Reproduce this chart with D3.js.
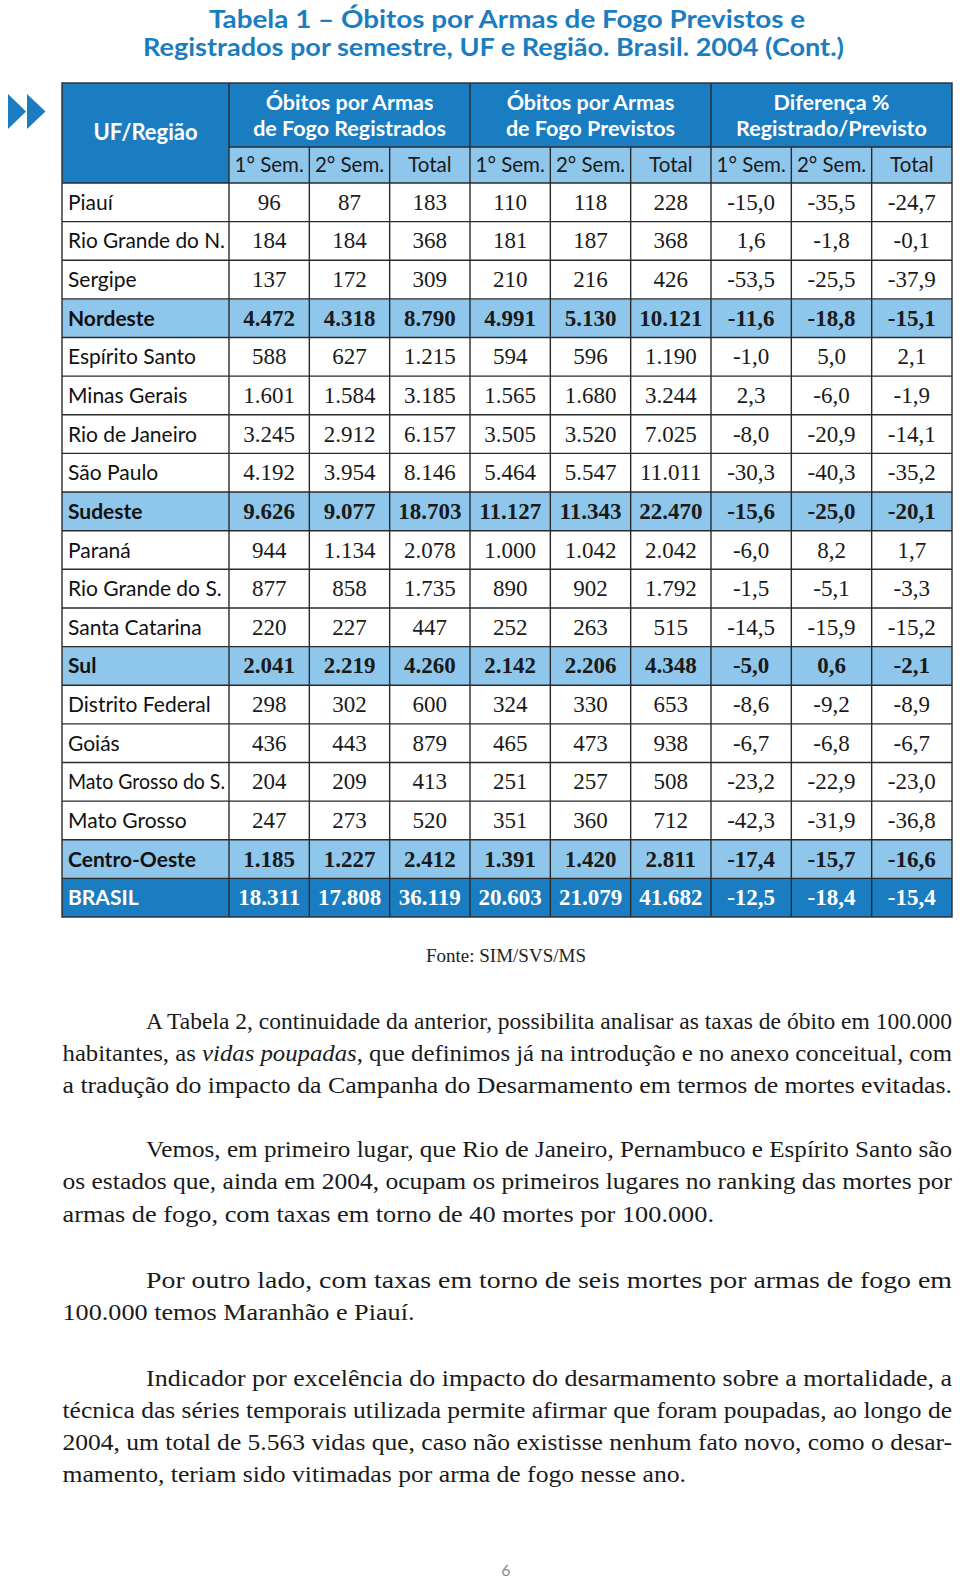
<!DOCTYPE html>
<html><head><meta charset="utf-8">
<script src="https://cdn.jsdelivr.net/npm/d3@7"></script>
<style>html,body{margin:0;padding:0;background:#fff;} svg{display:block}</style>
</head><body>
<script>
// ---------------- DATA ----------------
const titleLines = [
  "Tabela 1 – Óbitos por Armas de Fogo Previstos e",
  "Registrados por semestre,  UF e Região. Brasil. 2004 (Cont.)"
];
const firstHeader = "UF/Região";
const groupHeaders = [
  ["Óbitos por Armas", "de Fogo Registrados"],
  ["Óbitos por Armas", "de Fogo Previstos"],
  ["Diferença %", "Registrado/Previsto"]
];
const subHeaders = ["1° Sem.", "2° Sem.", "Total"];

const regions = ["Piauí","Rio Grande do N.","Sergipe","Nordeste","Espírito Santo","Minas Gerais",
  "Rio de Janeiro","São Paulo","Sudeste","Paraná","Rio Grande do S.","Santa Catarina","Sul",
  "Distrito Federal","Goiás","Mato Grosso do S.","Mato Grosso","Centro-Oeste","BRASIL"];
const kinds = ["uf","uf","uf","regiao","uf","uf","uf","uf","regiao","uf","uf","uf","regiao",
  "uf","uf","uf","uf","regiao","brasil"];

const regSem1   = [96,184,137,4472,588,1601,3245,4192,9626,944,877,220,2041,298,436,204,247,1185,18311];
const regSem2   = [87,184,172,4318,627,1584,2912,3954,9077,1134,858,227,2219,302,443,209,273,1227,17808];
const regTotal  = [183,368,309,8790,1215,3185,6157,8146,18703,2078,1735,447,4260,600,879,413,520,2412,36119];
const prevSem1  = [110,181,210,4991,594,1565,3505,5464,11127,1000,890,252,2142,324,465,251,351,1391,20603];
const prevSem2  = [118,187,216,5130,596,1680,3520,5547,11343,1042,902,263,2206,330,473,257,360,1420,21079];
const prevTotal = [228,368,426,10121,1190,3244,7025,11011,22470,2042,1792,515,4348,653,938,508,712,2811,41682];
const difSem1   = [-15.0,1.6,-53.5,-11.6,-1.0,2.3,-8.0,-30.3,-15.6,-6.0,-1.5,-14.5,-5.0,-8.6,-6.7,-23.2,-42.3,-17.4,-12.5];
const difSem2   = [-35.5,-1.8,-25.5,-18.8,5.0,-6.0,-20.9,-40.3,-25.0,8.2,-5.1,-15.9,0.6,-9.2,-6.8,-22.9,-31.9,-15.7,-18.4];
const difTotal  = [-24.7,-0.1,-37.9,-15.1,2.1,-1.9,-14.1,-35.2,-20.1,1.7,-3.3,-15.2,-2.1,-8.9,-6.7,-23.0,-36.8,-16.6,-15.4];

const sourceText = "Fonte: SIM/SVS/MS";
const pageNumber = "6";

const paragraphs = [
  ["A Tabela 2, continuidade da anterior, possibilita analisar as taxas de óbito em 100.000",
   "habitantes, as _vidas poupadas_, que definimos já na introdução e no anexo conceitual, com",
   "a tradução do impacto da Campanha do Desarmamento em termos de mortes evitadas."],
  ["Vemos, em primeiro lugar, que Rio de Janeiro, Pernambuco e Espírito Santo são",
   "os estados que, ainda em 2004, ocupam os primeiros lugares no ranking das mortes por",
   "armas de fogo, com taxas em torno de 40 mortes por 100.000."],
  ["Por outro lado, com taxas em torno de seis mortes por armas de fogo em",
   "100.000 temos Maranhão e Piauí."],
  ["Indicador por excelência do impacto do desarmamento sobre a mortalidade, a",
   "técnica das séries temporais utilizada permite afirmar que foram poupadas, ao longo de",
   "2004, um total de 5.563 vidas que, caso não existisse nenhum fato novo, como o desar-",
   "mamento, teriam sido vitimadas por arma de fogo nesse ano."]
];

// ---------------- LAYOUT / STYLE ----------------
const W = 960, H = 1581;
const DARK = "#1b7dc1", LIGHT = "#8fc6ec", LINE = "#2b2b2b";
const SANS = "Lato, 'Open Sans', sans-serif";
const SERIF = "'Liberation Serif', serif";

const tableLeft = 62, firstColRight = 229, tableRight = 952;
const headTop = 83, subTop = 147, bodyTop = 183, bodyBottom = 917;

const svg = d3.select("body").append("svg").attr("width", W).attr("height", H);

// Title
const titleLayout = [{x: 209, w: 596, y: 28}, {x: 143, w: 701, y: 56}];
svg.selectAll("text.title").data(titleLines).join("text")
  .attr("class","title")
  .attr("x", (d,i) => titleLayout[i].x).attr("y", (d,i) => titleLayout[i].y)
  .attr("textLength", (d,i) => titleLayout[i].w).attr("lengthAdjust","spacingAndGlyphs")
  .attr("font-family", SANS).attr("font-weight", "bold").attr("font-size", 25)
  .attr("fill", DARK).text(d => d);

// Arrow icon
[[8,26],[27,45.5]].forEach(([a,b]) => {
  svg.append("polygon").attr("points", `${a},94 ${b},111.5 ${a},129`).attr("fill", DARK);
});

// Scales
const colKeys = d3.range(9);
const x = d3.scaleBand().domain(colKeys).range([firstColRight, tableRight]);
const y = d3.scaleBand().domain(regions).range([bodyTop, bodyBottom]);
const columns = [regSem1, regSem2, regTotal, prevSem1, prevSem2, prevTotal, difSem1, difSem2, difTotal];
const loc = d3.formatLocale({decimal: ",", thousands: ".", grouping: [3], currency: ["R$", ""], minus: "-"});
const fmtInt = loc.format(",d"), fmtPct = loc.format(".1f");
const fmt = c => c < 6 ? fmtInt : fmtPct;

// Header backgrounds
svg.append("rect").attr("x", tableLeft).attr("y", headTop)
  .attr("width", tableRight - tableLeft).attr("height", bodyTop - headTop).attr("fill", DARK);
svg.append("rect").attr("x", firstColRight).attr("y", subTop)
  .attr("width", tableRight - firstColRight).attr("height", bodyTop - subTop).attr("fill", LIGHT);

// Row backgrounds
const rows = regions.map((r, i) => ({name: r, kind: kinds[i], i}));
svg.selectAll("rect.row").data(rows).join("rect").attr("class","row")
  .attr("x", tableLeft).attr("y", d => y(d.name))
  .attr("width", tableRight - tableLeft).attr("height", y.bandwidth())
  .attr("fill", d => d.kind === "regiao" ? LIGHT : d.kind === "brasil" ? DARK : "#fff");

// Header text
svg.append("text").attr("x", (tableLeft + firstColRight) / 2).attr("y", 139.5)
  .attr("text-anchor","middle").attr("font-family", SANS).attr("font-weight","bold")
  .attr("font-size", 22).attr("fill","#fff").text(firstHeader);
groupHeaders.forEach((g, gi) => {
  const cx = (x(gi*3) + x(gi*3+2) + x.bandwidth()) / 2;
  g.forEach((line, li) => {
    svg.append("text").attr("x", cx).attr("y", 109.5 + li*26)
      .attr("text-anchor","middle").attr("font-family", SANS).attr("font-weight","bold")
      .attr("font-size", 21.5).attr("fill","#fff").text(line);
  });
});
svg.selectAll("text.sub").data(colKeys).join("text").attr("class","sub")
  .attr("x", c => x(c) + x.bandwidth()/2).attr("y", 172)
  .attr("text-anchor","middle").attr("font-family", SANS).attr("font-size", 20.5)
  .attr("fill","#1a1a1a").text(c => subHeaders[c % 3]);

// Grid lines
const g = svg.append("g").attr("stroke", LINE).attr("stroke-width", 1.4).attr("fill","none");
regions.forEach(r => {
  g.append("line").attr("x1", tableLeft).attr("x2", tableRight).attr("y1", y(r)).attr("y2", y(r));
});
g.append("line").attr("x1", firstColRight).attr("x2", tableRight).attr("y1", subTop).attr("y2", subTop);
colKeys.forEach(c => {
  const xx = x(c);
  const top = (c % 3 === 0) ? headTop : subTop;
  g.append("line").attr("x1", xx).attr("x2", xx).attr("y1", top).attr("y2", bodyBottom);
});
g.append("rect").attr("x", tableLeft).attr("y", headTop)
  .attr("width", tableRight - tableLeft).attr("height", bodyBottom - headTop);

// Row labels
const labelMax = firstColRight - tableLeft - 10;
svg.selectAll("text.lbl").data(rows).join("text").attr("class","lbl")
  .attr("x", tableLeft + 6).attr("y", d => y(d.name) + y.bandwidth()/2 + 7.5)
  .attr("font-family", SANS).attr("font-size", 21)
  .attr("font-weight", d => d.kind === "uf" ? "normal" : "bold")
  .attr("fill", d => d.kind === "brasil" ? "#fff" : "#111")
  .text(d => d.name)
  .each(function() {
    if (this.getComputedTextLength() > labelMax)
      d3.select(this).attr("textLength", labelMax).attr("lengthAdjust","spacingAndGlyphs");
  });

// Cells
const cells = [];
rows.forEach(r => colKeys.forEach(c => cells.push({r, c, v: columns[c][r.i]})));
svg.selectAll("text.cell").data(cells).join("text").attr("class","cell")
  .attr("x", d => x(d.c) + x.bandwidth()/2)
  .attr("y", d => y(d.r.name) + y.bandwidth()/2 + 7.5)
  .attr("text-anchor","middle").attr("font-family", SERIF).attr("font-size", 23)
  .attr("font-weight", d => d.r.kind === "uf" ? "normal" : "bold")
  .attr("fill", d => d.r.kind === "brasil" ? "#fff" : "#1a1a1a")
  .text(d => fmt(d.c)(d.v))
  .each(function() {
    const m = x.bandwidth() - 4;
    if (this.getComputedTextLength() > m)
      d3.select(this).attr("textLength", m).attr("lengthAdjust","spacingAndGlyphs");
  });

// Source
svg.append("text").attr("x", 506).attr("y", 962).attr("text-anchor","middle")
  .attr("font-family", SERIF).attr("font-size", 19).attr("fill","#222").text(sourceText);

// Body paragraphs
const paraBase = [1028.5, 1157, 1288, 1385.5];
const lineGap = 32.3;
const textLeft = 62.5, indentLeft = 146, textRight = 952;
const lastLineEnd = [952, 714, 414.5, 686];
paragraphs.forEach((lines, pi) => {
  lines.forEach((line, li) => {
    const x0 = li === 0 ? indentLeft : textLeft;
    const x1 = li === lines.length - 1 ? lastLineEnd[pi] : textRight;
    const t = svg.append("text").attr("x", x0).attr("y", paraBase[pi] + li * lineGap)
      .attr("font-family", SERIF).attr("font-size", 22.5).attr("fill","#1a1a1a")
      .attr("textLength", x1 - x0).attr("lengthAdjust", "spacingAndGlyphs");
    line.split("_").forEach((seg, si) => {
      t.append("tspan").attr("font-style", si % 2 ? "italic" : "normal").text(seg);
    });
  });
});

// Page number
svg.append("text").attr("x", 506).attr("y", 1576).attr("text-anchor","middle")
  .attr("font-family", SANS).attr("font-size", 16).attr("fill","#8a8a8a").text(pageNumber);
</script>
</body></html>
